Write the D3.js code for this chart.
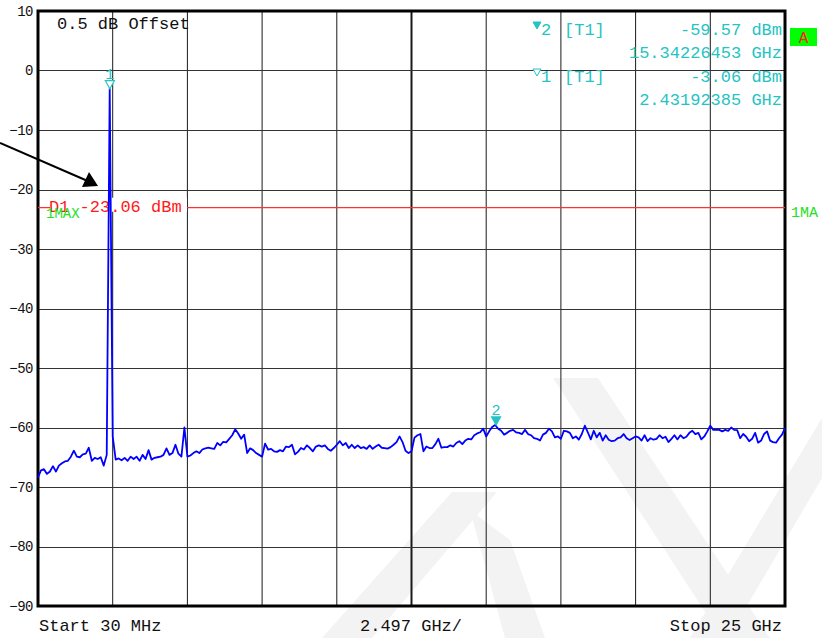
<!DOCTYPE html>
<html><head><meta charset="utf-8">
<script src="https://cdn.jsdelivr.net/npm/d3@7"></script>
<style>html,body{margin:0;padding:0;background:#fff;}svg{display:block;}</style>
</head><body>
<svg id="c" width="822" height="638"></svg>
<script>
// ---- data ----
const startGHz = 0.03, stopGHz = 25;
const spanPerDiv = "2.497 GHz/";
const yTicks = [10, 0, -10, -20, -30, -40, -50, -60, -70, -80, -90];
const levels = [
-68.4,-67.2,-67.0,-67.8,-67.4,-66.5,-67.4,-66.4,-66.0,-65.7,
-65.6,-64.9,-63.9,-64.9,-65.0,-64.5,-64.4,-63.4,-65.6,-65.1,
-65.3,-65.0,-66.4,-64.6,-3.06,-61.5,-65.4,-65.2,-65.5,-65.1,
-65.6,-64.9,-65.3,-64.9,-65.6,-64.6,-65.3,-63.8,-65.4,-65.1,
-65.0,-64.9,-64.6,-63.5,-64.6,-64.3,-62.9,-64.4,-64.9,-60.0,
-64.9,-64.7,-64.3,-64.0,-64.3,-63.7,-63.5,-63.4,-63.5,-63.6,
-62.6,-63.0,-62.4,-62.5,-61.9,-61.3,-60.3,-61.0,-61.9,-61.2,
-64.3,-63.5,-63.8,-64.3,-64.6,-64.9,-62.7,-63.7,-63.6,-64.0,
-64.1,-63.8,-64.0,-63.2,-63.3,-62.9,-64.5,-64.1,-63.45,-63.7,
-63.0,-63.45,-64.0,-63.2,-63.0,-63.2,-63.0,-63.6,-63.9,-63.45,
-62.9,-62.3,-63.0,-62.6,-63.45,-62.9,-63.45,-63.0,-63.45,-63.3,
-63.6,-63.0,-63.6,-63.2,-62.9,-63.4,-63.45,-63.55,-63.3,-62.9,
-62.45,-61.5,-62.45,-63.9,-64.3,-64.0,-61.7,-61.3,-61.1,-64.0,
-63.2,-63.45,-63.45,-62.8,-61.9,-63.4,-63.3,-63.3,-63.0,-63.2,
-62.6,-62.3,-62.8,-62.2,-61.9,-62.0,-61.3,-61.0,-60.8,-60.2,
-61.5,-60.65,-59.9,-59.57,-60.2,-60.55,-61.2,-60.9,-60.55,-60.4,
-60.8,-60.9,-61.1,-60.4,-61.1,-61.3,-61.8,-61.9,-62.2,-61.2,
-60.9,-60.2,-60.65,-61.65,-61.5,-61.9,-60.55,-60.65,-60.9,-61.8,
-61.5,-62.05,-61.1,-59.7,-60.8,-62.0,-60.55,-61.65,-60.9,-62.2,
-61.3,-62.05,-62.3,-62.2,-61.8,-61.65,-61.1,-61.8,-62.1,-61.8,
-61.5,-61.65,-62.2,-61.3,-62.3,-61.8,-62.05,-61.9,-61.3,-61.8,
-61.55,-62.45,-61.9,-61.3,-62.0,-61.3,-61.8,-61.55,-60.9,-60.55,
-61.1,-60.9,-62.0,-61.5,-60.65,-59.7,-60.4,-60.4,-60.4,-60.65,
-60.4,-60.55,-60.0,-60.4,-60.45,-61.8,-61.1,-61.55,-62.3,-61.9,
-60.9,-62.55,-62.2,-61.1,-60.65,-62.2,-62.45,-62.55,-61.8,-61.2,
-60.1];
const markerIds = ["1", "2"];
const markerFreqs = [2.43192385, 15.34226453];
const markerLevels = [-3.06, -59.57];
const displayLine = -23.06;

// ---- layout ----
const svg = d3.select("#c");
const X0 = 38, X1 = 785, Y0 = 11, Y1 = 606;
const x = d3.scaleLinear().domain([startGHz, stopGHz]).range([X0, X1]);
const y = d3.scaleLinear().domain([-90, 10]).range([Y1, Y0]);
const font = "'Liberation Mono', 'DejaVu Sans Mono', monospace";
const cyan = "#26c3c3";

svg.append("rect").attr("width", 822).attr("height", 638).attr("fill", "#fff");

// watermark
const wm = svg.append("g").attr("fill", "#f3f3f3");
[
  [[452,492],[497,492],[372,638],[322,638]],
  [[470,510],[510,540],[545,638],[505,638]],
  [[553,378],[598,378],[770,638],[722,638]],
  [[822,418],[822,478],[728,638],[690,638]]
].forEach(p => wm.append("polygon").attr("points", p.map(q => q.join(",")).join(" ")));

// grid
const nDiv = 10;
const step = (stopGHz - startGHz) / nDiv;
const vLines = d3.range(nDiv + 1).map(k => startGHz + k * step);
svg.append("g").selectAll("line").data(vLines).join("line")
  .attr("x1", d => x(d)).attr("x2", d => x(d)).attr("y1", Y0).attr("y2", Y1)
  .attr("stroke", "#1a1a1a").attr("stroke-width", (d, i) => i === 5 ? 2 : 1);
svg.append("g").selectAll("line").data(yTicks).join("line")
  .attr("x1", X0).attr("x2", X1).attr("y1", d => Math.round(y(d)) + 0.5).attr("y2", d => Math.round(y(d)) + 0.5)
  .attr("stroke", "#333").attr("stroke-width", 1);
// frame
svg.append("rect").attr("x", X0).attr("y", Y0).attr("width", X1 - X0).attr("height", Y1 - Y0)
  .attr("fill", "none").attr("stroke", "#000").attr("stroke-width", 3);

// y axis labels
const yAxis = d3.axisLeft(y).tickValues(yTicks).tickSize(0).tickPadding(4);
const ya = svg.append("g").attr("transform", `translate(${X0 - 1},0)`).call(yAxis);
ya.select(".domain").remove();
ya.selectAll("text").attr("font-family", font).attr("font-size", 14).attr("fill", "#111")
  .attr("letter-spacing", -0.5);

// top-left text
svg.append("text").attr("x", 57).attr("y", 29).attr("font-family", font).attr("font-size", 17)
  .attr("fill", "#111").text("0.5 dB Offset");

// display line
const yd = y(displayLine);
svg.append("line").attr("x1", X0).attr("x2", X1).attr("y1", yd).attr("y2", yd)
  .attr("stroke", "#ff3030").attr("stroke-width", 1.2);
svg.append("rect").attr("x", 50).attr("y", yd - 10).attr("width", 137).attr("height", 14).attr("fill", "#fff");
svg.append("text").attr("x", 49).attr("y", yd + 4).attr("font-family", font).attr("font-size", 17)
  .attr("fill", "#ff1a1a").text("D1 -23.06 dBm");
svg.append("text").attr("x", 46).attr("y", yd + 10).attr("font-family", font).attr("font-size", 14)
  .attr("fill", "#22e022").text("1MAX");
svg.append("text").attr("x", 791).attr("y", yd + 9).attr("font-family", font).attr("font-size", 15)
  .attr("fill", "#22e022").text("1MA");

// trace
const nPts = levels.length;
const fAt = i => startGHz + i * (stopGHz - startGHz) / (nPts - 1);
const line = d3.line().x((d, i) => x(fAt(i))).y(d => y(d));
svg.append("path").datum(levels).attr("d", line).attr("fill", "none")
  .attr("stroke", "#0000ff").attr("stroke-width", 1.8).attr("stroke-linejoin", "round");

// markers
markerIds.forEach((id, k) => {
  const mx = x(markerFreqs[k]), my = y(markerLevels[k]);
  const tri = `${mx - 4.5},${my - 8} ${mx + 4.5},${my - 8} ${mx},${my}`;
  svg.append("polygon").attr("points", tri)
    .attr("fill", k === 0 ? "#fff" : cyan).attr("stroke", cyan).attr("stroke-width", 1.2);
  svg.append("text").attr("x", mx).attr("y", my - 10).attr("text-anchor", "middle")
    .attr("font-family", font).attr("font-size", 15).attr("fill", cyan).text(id);
});

// marker info (top right)
const info = svg.append("g").attr("font-family", font).attr("font-size", 17).attr("fill", cyan);
const rows = [
  {filled: true, id: "2", lvl: markerLevels[1], f: markerFreqs[1], y: 35},
  {filled: false, id: "1", lvl: markerLevels[0], f: markerFreqs[0], y: 82}
];
rows.forEach(r => {
  const ty = r.y - 13;
  info.append("polygon").attr("points", `533,${ty} 541,${ty} 537,${ty + 7}`)
    .attr("fill", r.filled ? cyan : "#fff").attr("stroke", cyan).attr("stroke-width", 1);
  info.append("text").attr("x", 541).attr("y", r.y).text(r.id);
  info.append("text").attr("x", 564).attr("y", r.y).text("[T1]");
  info.append("text").attr("x", 782).attr("y", r.y).attr("text-anchor", "end").text(r.lvl.toFixed(2) + " dBm");
  info.append("text").attr("x", 782).attr("y", r.y + 23).attr("text-anchor", "end").text(r.f.toFixed(8) + " GHz");
});

// "A" box
svg.append("rect").attr("x", 790).attr("y", 28).attr("width", 27).attr("height", 18).attr("fill", "#00ff00");
svg.append("text").attr("x", 803.5).attr("y", 43).attr("text-anchor", "middle").attr("font-family", font)
  .attr("font-size", 16).attr("fill", "#ff2020").text("A");

// arrow
svg.append("line").attr("x1", 0).attr("y1", 143).attr("x2", 90).attr("y2", 182)
  .attr("stroke", "#000").attr("stroke-width", 2);
svg.append("polygon").attr("points", "98,186 82,187 89,172").attr("fill", "#000");

// bottom labels
const bl = svg.append("g").attr("font-family", font).attr("font-size", 17).attr("fill", "#111");
bl.append("text").attr("x", 39).attr("y", 631).text("Start 30 MHz");
bl.append("text").attr("x", 360).attr("y", 631).text(spanPerDiv);
bl.append("text").attr("x", 782).attr("y", 631).attr("text-anchor", "end").text("Stop 25 GHz");
</script>
</body></html>
